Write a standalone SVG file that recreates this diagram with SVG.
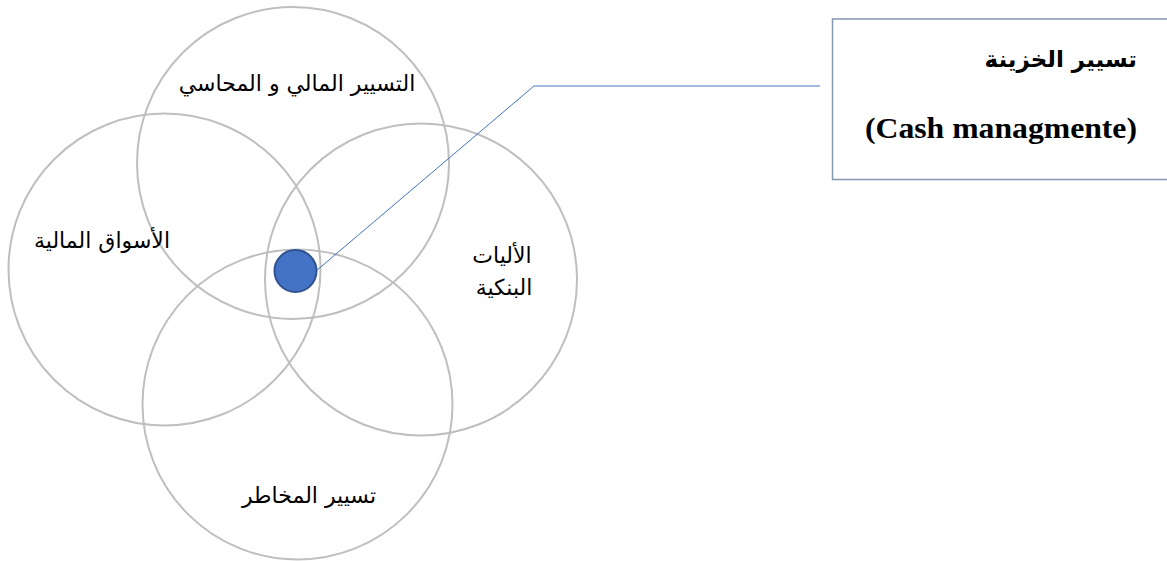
<svg xmlns="http://www.w3.org/2000/svg" width="1167" height="561" viewBox="0 0 1167 561">
<style>
.ring{fill:none;stroke:#BFBFBF;stroke-width:2}
.ar{font-family:"DejaVu Sans","Noto Sans",sans-serif;font-size:22px;fill:#000}
.arb{font-family:"DejaVu Sans","Noto Sans",sans-serif;font-size:23px;font-weight:bold;fill:#000}
.en{font-family:"Liberation Serif","Times New Roman",serif;font-size:30px;font-weight:bold;fill:#000}
</style>
<rect width="1167" height="561" fill="#fff"/>
<g id="circle-top"><circle class="ring" cx="293" cy="163" r="156"/><text class="ar" x="297" y="91" text-anchor="middle">التسيير المالي و المحاسي</text></g>
<g id="circle-left"><circle class="ring" cx="164.5" cy="269.5" r="156"/><text class="ar" x="102" y="248" text-anchor="middle">الأسواق المالية</text></g>
<g id="circle-right"><circle class="ring" cx="421" cy="279.5" r="156"/><text class="ar" x="502" y="263" text-anchor="middle">الأليات</text><text class="ar" x="504" y="295" text-anchor="middle">البنكية</text></g>
<g id="circle-bottom"><circle class="ring" cx="297.5" cy="404.5" r="155"/><text class="ar" x="309" y="503" text-anchor="middle">تسيير المخاطر</text></g>
<g id="connectors"><polyline points="316,271 534,86 820,86" fill="none" stroke="#4472C4" stroke-width="1"/></g>
<g id="center-dot"><circle cx="295.5" cy="271" r="21" fill="#4472C4" stroke="#2F528F" stroke-width="2"/></g>
<g id="callout"><rect x="832.5" y="19" width="340" height="160.5" fill="#fff" stroke="#8497B0" stroke-width="1.5"/>
<text class="arb" x="1137" y="67" text-anchor="end">تسيير الخزينة</text>
<text class="en" x="1137" y="138" text-anchor="end" textLength="272" lengthAdjust="spacingAndGlyphs">(Cash managmente)</text></g>
</svg>
